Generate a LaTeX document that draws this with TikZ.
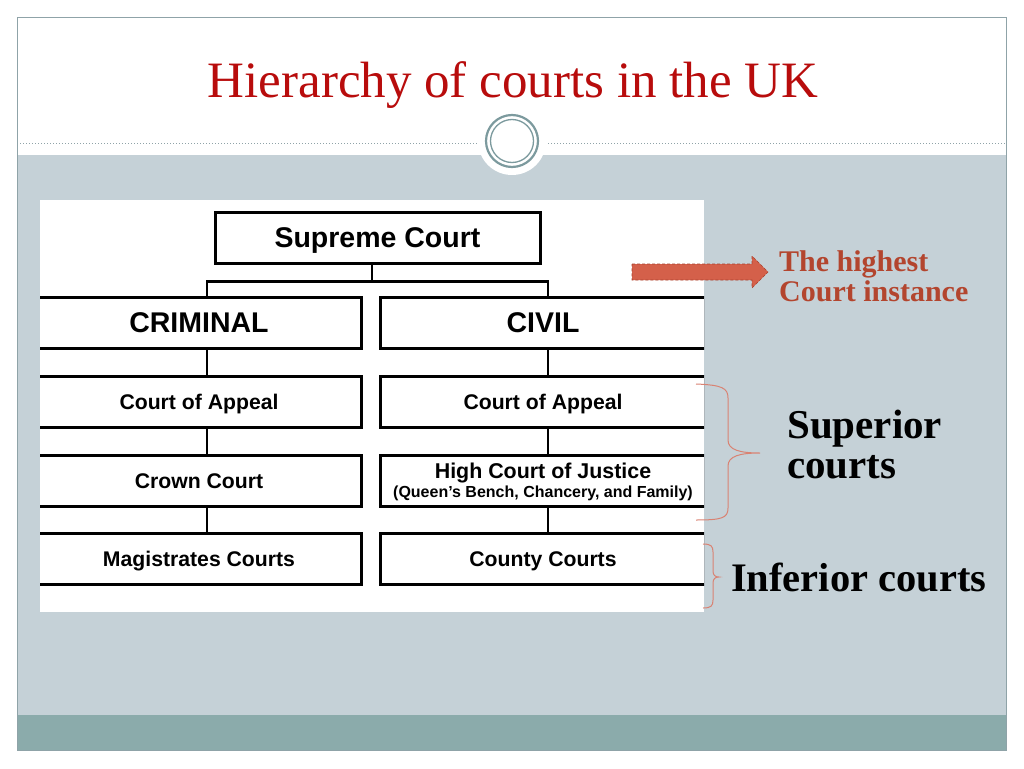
\documentclass[tikz,border=0pt]{standalone}
\usepackage{fontspec}
\setmainfont{Liberation Serif}
\newfontfamily\arialf{Liberation Sans}
\usetikzlibrary{shadows,calc}
\newcommand\fsz[2]{\fontsize{#1}{#2}\selectfont}
\definecolor{bgray}{HTML}{C5D1D7}
\definecolor{band}{HTML}{8BABAB}
\definecolor{frame}{HTML}{8FA3A8}
\definecolor{ring}{HTML}{7C9A9E}
\definecolor{titlered}{HTML}{B80C0C}
\definecolor{arrowfill}{HTML}{D4604A}
\definecolor{arrowline}{HTML}{A8402C}
\definecolor{notered}{HTML}{B3452E}
\definecolor{bracec}{HTML}{D98272}
\tikzset{
  court/.style={draw=black, line width=3pt, fill=white, inner sep=0pt,
    minimum height=51pt, align=center, font=\arialf\bfseries,
    drop shadow={shadow xshift=2pt, shadow yshift=-2pt, fill=black!45, opacity=.6}},
  bigtext/.style={font=\arialf\bfseries\fsz{28.5}{30}, text height=20.5pt, text depth=0pt},
  smalltext/.style={font=\arialf\bfseries\fsz{21.2}{23}, text height=15.2pt, text depth=0pt},
  link/.style={line width=2.6pt, black},
  bracestyle/.style={draw=bracec, line width=1pt}
}
\begin{document}
\begin{tikzpicture}[x=1pt,y=-1pt]
\useasboundingbox (0,0) rectangle (1024,768);
\fill[white] (0,0) rectangle (1024,768);
% slide background
\fill[bgray] (17,155) rectangle (1006,715);
\fill[band] (17,715) rectangle (1006,750);
\draw[frame, line width=0.8pt] (17,17) rectangle (1006,750);
\draw[frame, line width=1pt, dotted] (17,143) -- (1006,143);
% ornament circle
\fill[white] (512,141) circle (34);
\draw[ring, line width=2.2pt] (512,141) circle (26);
\draw[ring, line width=1.3pt] (512,141) circle (21.5);
% title
\node[text=titlered, font=\fsz{51}{51}, anchor=base] (title) at (513,97) {Hierarchy of courts in the UK};
% chart
\fill[white] (40,200) rectangle (704,612);
\begin{scope}
\clip (40,200) rectangle (704,612);
\node[court, bigtext, minimum width=325pt] (sup) at (377.5,237.5) {Supreme Court};
\node[court, bigtext, minimum width=324pt] (crim) at (199,322.5) {CRIMINAL};
\node[court, bigtext, minimum width=325pt] (civ) at (543,322.5) {CIVIL};
\node[court, smalltext, minimum width=324pt] (ca1) at (199,401.5) {Court of Appeal};
\node[court, smalltext, minimum width=325pt] (ca2) at (543,401.5) {Court of Appeal};
\node[court, smalltext, minimum width=324pt] (crown) at (199,480.5) {Crown Court};
\node[court, minimum width=325pt, font=\arialf\bfseries\fsz{21.4}{19}, text height=33pt, text depth=0pt] (high) at (543,480.5) {High Court of Justice\\{\fsz{16}{19}(Queen’s Bench, Chancery, and Family)}};
\node[court, smalltext, minimum width=324pt] (mag) at (199,558.5) {Magistrates Courts};
\node[court, smalltext, minimum width=325pt] (county) at (543,558.5) {County Courts};
\draw[link] ([xshift=-5.5pt]sup.south) -- ++(0,17) coordinate (j);
\draw[link] ([xshift=8pt]crim.north) |- (j) -| ([xshift=5pt]civ.north);
\draw[link] ([xshift=8pt]crim.south) -- ([xshift=8pt]ca1.north);
\draw[link] ([xshift=8pt]ca1.south) -- ([xshift=8pt]crown.north);
\draw[link] ([xshift=8pt]crown.south) -- ([xshift=8pt]mag.north);
\draw[link] ([xshift=5pt]civ.south) -- ([xshift=5pt]ca2.north);
\draw[link] ([xshift=5pt]ca2.south) -- ([xshift=5pt]high.north);
\draw[link] ([xshift=5pt]high.south) -- ([xshift=5pt]county.north);
\end{scope}
% block arrow
\draw[fill=arrowfill, draw=arrowline, line width=0.6pt, densely dashed]
  (632,264) -- (752,264) -- (752,256) -- (768,272) -- (752,288) -- (752,280) -- (632,280) -- cycle;
\node[text=notered, font=\bfseries\fsz{30}{30}, anchor=base west, align=left, inner sep=0pt] (high note) at (779,301) {The highest\\Court instance};
% braces
\draw[bracestyle] (696,384) .. controls (722,385) and (728,388) .. (728,398)
  -- (728,440) .. controls (728,450) and (740,453) .. (760,453)
  .. controls (740,453) and (728,456) .. (728,466)
  -- (728,508) .. controls (728,518) and (722,520) .. (696,520);
\draw[bracestyle] (703,544) .. controls (711,544) and (713,546) .. (713,552)
  -- (713,571) .. controls (713,575) and (715,577) .. (719,577)
  .. controls (715,577) and (713,579) .. (713,583)
  -- (713,600) .. controls (713,606) and (711,608) .. (703,608);
\node[font=\bfseries\fsz{41}{40}, anchor=base west, align=left, inner sep=0pt] (sup note) at (787,478) {Superior\\courts};
\node[font=\bfseries\fsz{40.5}{40}, anchor=base west, inner sep=0pt] (inf note) at (731,591) {Inferior courts};
\end{tikzpicture}
\end{document}
